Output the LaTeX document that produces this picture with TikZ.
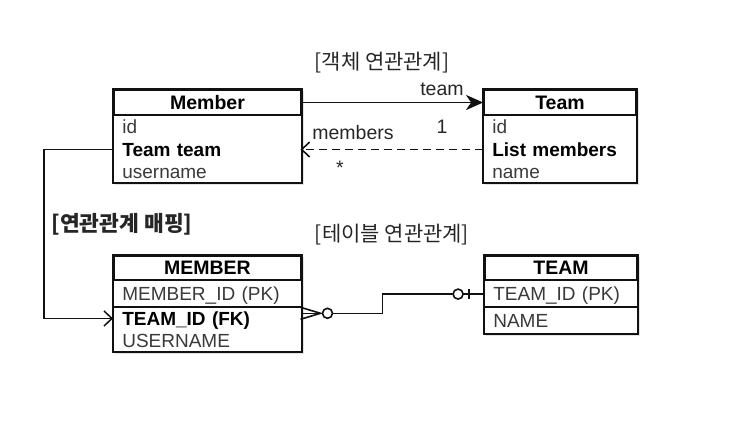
\documentclass[tikz,border=0pt]{standalone}
\usepackage{fontspec}
\setmainfont{Liberation Sans}
\newfontfamily\krfont{Noto Sans CJK KR}
\usepackage{tikz}
\usetikzlibrary{arrows.meta,positioning,fit,backgrounds,shadows}
\definecolor{rowGray}{HTML}{3A3A3A}
\definecolor{lineDark}{HTML}{111111}
\newcommand\rowfont{\fontsize{19}{22}\selectfont}
\tikzset{
  tblhead/.style={draw=lineDark, line width=1.8pt, minimum width=#1, minimum height=25pt,
    inner sep=0pt, text height=15.8pt, text depth=2.2pt, font=\fontsize{19.5}{22}\selectfont\bfseries},
  tblrow/.style={minimum width=#1, text width={#1-18pt}, inner xsep=9pt, inner ysep=2pt,
    text height=15.8pt, text depth=2.2pt, align=left, font=\rowfont, text=rowGray},
  keyrow/.style={font=\rowfont\bfseries, text=black},
  tallrow/.style={inner ysep=4pt},
  tblbox/.style={draw=lineDark, line width=1.8pt, fill=white, inner sep=0pt,
    drop shadow={opacity=0.22, shadow xshift=2pt, shadow yshift=-2pt}},
  tblline/.style={draw=lineDark, line width=1.8pt},
  kor/.style={font=\krfont\fontsize{21}{25}\selectfont, text=black!85},
  lbl/.style={font=\fontsize{19.5}{22}\selectfont, text=black!85, inner sep=1pt},
  assoc/.style={-{Stealth[length=17pt, width=15pt, inset=5pt]}, line width=1.7pt, lineDark},
  backref/.style={-{Straight Barb[length=8pt, width=15pt]}, line width=1.6pt, lineDark,
    dash pattern=on 8pt off 5pt},
  mapline/.style={-{Straight Barb[length=8pt, width=15pt]}, line width=1.5pt, lineDark},
  erline/.style={line width=1.6pt, lineDark},
  ercirc/.style={circle, draw=lineDark, line width=1.6pt, fill=white, minimum size=10pt, inner sep=0pt}
}
\begin{document}
\begin{tikzpicture}[x=1pt,y=-1pt]
  \useasboundingbox (0,0) rectangle (745,431);

  % object model
  \node[kor] (objtitle) at (382,63) {[객체 연관관계]};
  \node[tblhead=187] (member) at (207.5,102.5) {Member};
  \node[tblrow=187, anchor=north west] (mid) at (member.south west) {id};
  \node[tblrow=187, keyrow, below=0pt of mid] (mteam) {Team team};
  \node[tblrow=187, below=0pt of mteam] (muser) {username};

  \node[tblhead=152] (team) at (560,102.5) {Team};
  \node[tblrow=152, anchor=north west] (tid) at (team.south west) {id};
  \node[tblrow=152, keyrow, below=0pt of tid] (tmembers) {List members};
  \node[tblrow=152, below=0pt of tmembers] (tname) {name};

  \node[lbl] (teamlbl) at (442,89) {team};
  \node[lbl] (onelbl) at (442,127) {1};
  \node[lbl] (memberslbl) at (353,133) {members};
  \node[lbl] (manylbl) at (340,168) {*};

  % table model
  \node[kor, font=\krfont\bfseries\fontsize{21.5}{25}\selectfont] (maptitle) at (122,224) {[연관관계 매핑]};
  \node[kor] (tbltitle) at (392,235) {[테이블 연관관계]};

  \node[tblhead=187, minimum height=24pt] (mtbl) at (207.5,268) {MEMBER};
  \node[tblrow=187, tallrow, anchor=north west] (mpk) at (mtbl.south west) {MEMBER\_ID (PK)};
  \node[tblrow=187, keyrow, below=0pt of mpk] (mfk) {TEAM\_ID (FK)};
  \node[tblrow=187, below=0pt of mfk] (mname) {USERNAME};

  \node[tblhead=152, minimum height=24pt] (ttbl) at (561,268) {TEAM};
  \node[tblrow=152, tallrow, anchor=north west] (tpk) at (ttbl.south west) {TEAM\_ID (PK)};
  \node[tblrow=152, tallrow, below=0pt of tpk] (tnm) {NAME};

  \begin{scope}[on background layer]
    \node[tblbox, fit=(member)(muser)] (memberbox) {};
    \node[tblbox, fit=(team)(tname)] (teambox) {};
    \node[tblbox, fit=(mtbl)(mname)] (mtblbox) {};
    \node[tblbox, fit=(ttbl)(tnm)] (ttblbox) {};
  \end{scope}
  \draw[tblline] (mpk.south west) -- (mpk.south east);
  \draw[tblline] (tpk.south west) -- (tpk.south east);

  % connectors
  \draw[assoc] (member.east) -- (team.west);
  \draw[backref] (tmembers.west) -- (mteam.east);
  \draw[mapline] (mteam.west) -- ++(-69,0) |- (mfk.west);

  \coordinate (fkfoot) at ([yshift=-6pt]mfk.north east);
  \draw[erline] (fkfoot) -- ++(82,0) |- (tpk.west);
  \draw[erline] (mfk.north east) -- ([xshift=20pt]fkfoot) -- ([yshift=-12pt]mfk.north east);
  \node[ercirc] (manycirc) at ([xshift=27pt]fkfoot) {};
  \node[ercirc] (onecirc) at ([xshift=-26pt]tpk.west) {};
  \draw[erline] ([xshift=-15pt,yshift=5pt]tpk.west) -- ([xshift=-15pt,yshift=-5pt]tpk.west);
\end{tikzpicture}
\end{document}
